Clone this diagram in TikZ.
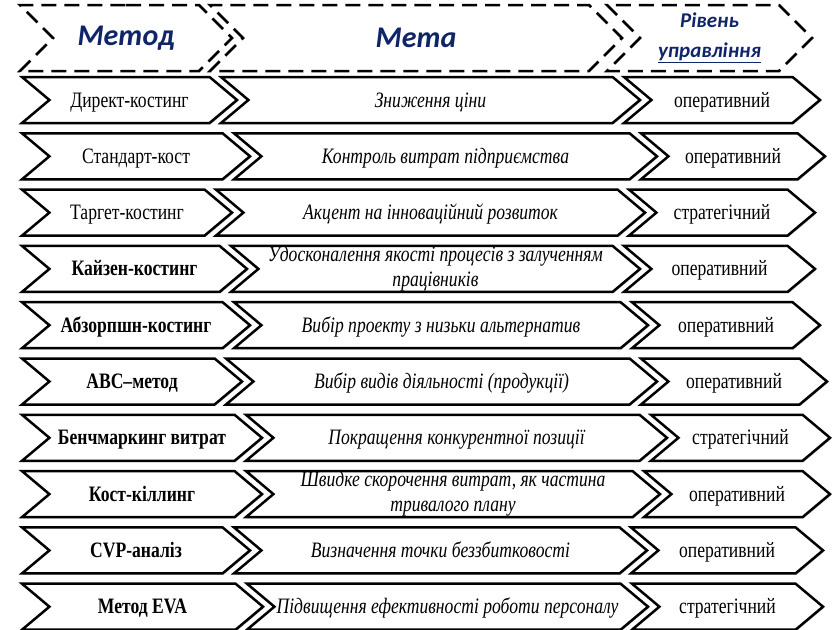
\documentclass[tikz,border=0pt]{standalone}
\usepackage{fontspec}
\setmainfont{Liberation Serif}[FakeStretch=0.8]
\newfontfamily\headfont{Carlito}
\usetikzlibrary{shapes.symbols,shadows}
\definecolor{hdblue}{RGB}{16,36,104}
\tikzstyle{chevron} = [signal, signal to=east, signal from=west, signal pointer angle=80, draw, line width=2.5pt, fill=white, minimum height=46pt, inner sep=0pt, text height=14pt, text depth=0pt, font=\fontsize{22}{25}\selectfont, drop shadow={shadow xshift=1.2pt, shadow yshift=-1.2pt, fill=black!45}]
\tikzstyle{goalbox} = [chevron, align=center, font=\fontsize{22}{25}\selectfont\itshape]
\tikzstyle{goaltwo} = [goalbox, text height={}, text depth={}]
\tikzstyle{header} = [signal, signal to=east, signal from=west, signal pointer angle=90, draw, dash pattern=on 15pt off 8pt, line width=2.5pt, minimum height=66pt, inner sep=0pt, text=hdblue, font=\headfont\bfseries\itshape\fontsize{30}{32}\selectfont]

\begin{document}
\begin{tikzpicture}[x=1pt, y=-1pt]
\useasboundingbox (0,0) rectangle (832,629);
% Header row
\node (hmeth) [header, minimum width=212pt] at (126,38) {Метод};
\node (hgoal) [header, minimum width=412pt] at (416,38) {Мета};
\node (hlev) [header, minimum width=205pt, align=center, font=\headfont\bfseries\itshape\fontsize{21}{30}\selectfont] at (709.5,38) {Рівень\\\underline{управління}};

% Rows: method / goal / level
\foreach \i/\ta/\tb/\tc/\gs/\meth/\goal/\lev in {
  1/237/640/820/goalbox/{Директ-костинг}/{Зниження ціни}/{оперативний},
  2/250/657/825/goalbox/{Стандарт-кост}/{Контроль витрат підприємства}/{оперативний},
  3/232/645/815/goalbox/{Таргет-костинг}/{Акцент на інноваційний розвиток}/{стратегічний},
  4/247/640/815/goaltwo/{\textbf{Кайзен-костинг}}/{Удосконалення якості процесів з залученням\\працівників}/{оперативний},
  5/250/648/820/goalbox/{\textbf{Абзорпшн-костинг}}/{Вибір проекту з низьки альтернатив}/{оперативний},
  6/242/657/827/goalbox/{\textbf{ABC–метод}}/{Вибір видів діяльності (продукції)}/{оперативний},
  7/262/667/830/goalbox/{\textbf{Бенчмаркинг витрат}}/{Покращення конкурентної позиції}/{стратегічний},
  8/262/660/830/goaltwo/{\textbf{Кост-кіллинг}}/{Швидке скорочення витрат, як частина\\тривалого плану}/{оперативний},
  9/250/647/823/goalbox/{\textbf{CVP-аналіз}}/{Визначення точки беззбитковості}/{оперативний},
  10/263/648/823/goalbox/{\textbf{Метод EVA}}/{Підвищення ефективності роботи персоналу}/{стратегічний}}
{
  \pgfmathsetmacro{\yc}{100+(\i-1)*56.3}
  \node (meth\i) [chevron, minimum width={(\ta-22)*1pt}] at ({(22+\ta)/2},\yc) {\meth};
  \node (goal\i) [\gs, minimum width={(\tb-\ta+16)*1pt}] at ({(\ta-16+\tb)/2},\yc) {\goal};
  \node (lev\i) [chevron, minimum width={(\tc-\tb+16)*1pt}] at ({(\tb-16+\tc)/2},\yc) {\lev};
}
\end{tikzpicture}
\end{document}
